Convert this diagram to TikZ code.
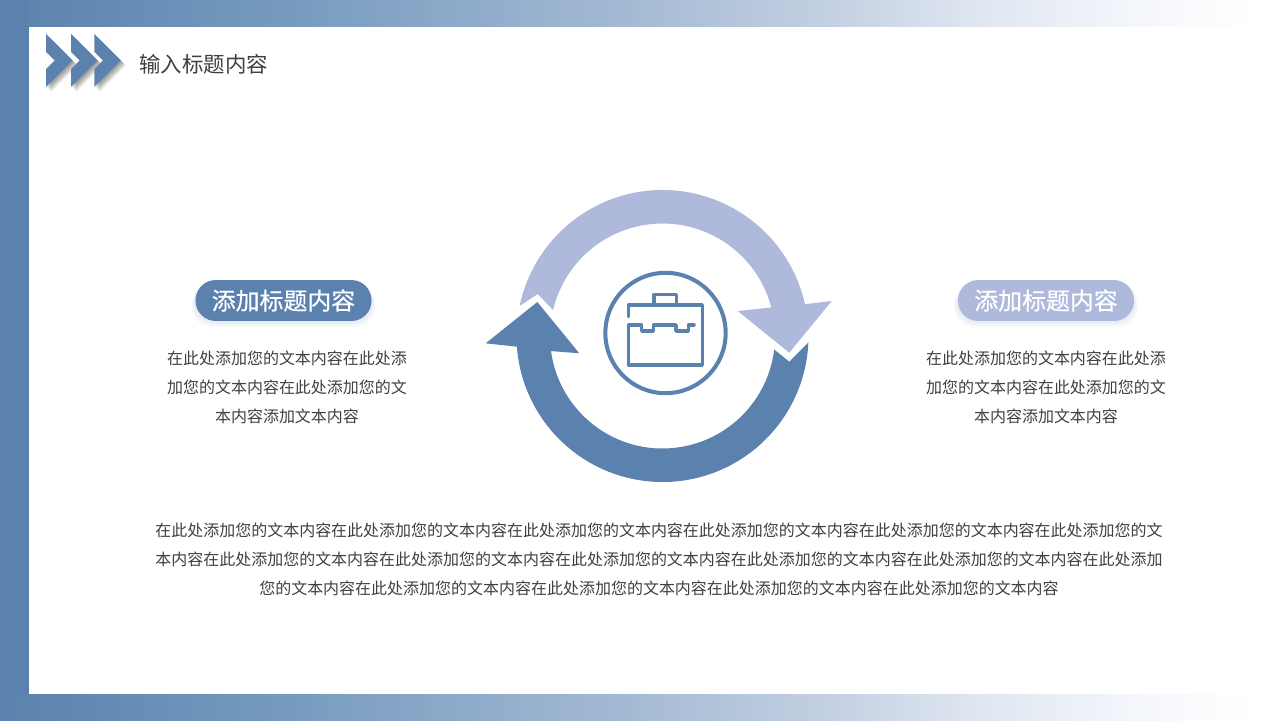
\documentclass[tikz,border=0pt]{standalone}
\usepackage{fontspec}
\setmainfont{Noto Sans CJK SC}
\usepackage{tikz}
\usetikzlibrary{positioning}
\definecolor{darkblue}{HTML}{5B82AE}
\definecolor{lightblue}{HTML}{AFB9DC}
\definecolor{inktext}{HTML}{404040}
\definecolor{fadea}{RGB}{120,156,192}
\definecolor{fadeb}{RGB}{163,185,211}
\definecolor{fadec}{RGB}{194,207,225}
\definecolor{faded}{RGB}{225,232,242}
\definecolor{fadee}{RGB}{246,248,252}
\pgfdeclarehorizontalshading{barfade}{100bp}{
  color(0bp)=(darkblue); color(25bp)=(darkblue); color(36.75bp)=(fadea); color(49.25bp)=(fadeb);
  color(57bp)=(fadec); color(63.75bp)=(faded); color(70bp)=(fadee); color(74bp)=(white); color(100bp)=(white)
}
\tikzstyle{bar edge}=[shading=barfade]
\tikzstyle{body text}=[inner sep=0pt,align=center,text=inktext,font=\fontsize{9.1}{16.5}\selectfont]
\tikzstyle{pill}=[rounded corners=11.5pt,minimum width=100.2pt,minimum height=23.3pt,inner sep=0pt,text=white,font=\fontsize{13.6}{16}\selectfont\addfontfeature{FakeBold=0.5}]
\tikzstyle{icon line}=[darkblue,line width=2pt,line cap=round,line join=round]
\newcommand{\pillglow}[2]{
  \foreach \g in {1,2,3,4}{
    \fill[lightblue,opacity=0.07,rounded corners=11.5pt] (#1-88-\g,#2-16) rectangle (#1+88+\g,#2+20.5+\g*1.5);
  }
}
\newcommand{\chevron}[2][]{
  \fill[#1] (#2,34) -- ++(26.4,26.4) -- ++(-26.4,26.4) -- ++(0,-17.8) -- ++(8.8,-8.6) -- ++(-8.8,-8.6) -- cycle
}

\begin{document}
\begin{tikzpicture}[x=0.02cm,y=-0.02cm]
  \useasboundingbox (0,0) rectangle (1280,720);
  \fill[white] (0,0) rectangle (1280,720);
  % frame
  \fill[bar edge] (0,0) rectangle (1280,26);
  \fill[bar edge] (0,694) rectangle (1280,720);
  \fill[darkblue] (0,0) rectangle (28.5,694);

  % header
  \foreach \cx in {46,71,94.3}{
    \foreach \s in {1,2,3,4,5}{
      \begin{scope}[shift={(\s,\s)}]
        \chevron[black,opacity=0.09]{\cx};
      \end{scope}
    }
    \chevron[darkblue]{\cx};
  }
  \node[anchor=west,inner sep=0pt,text=inktext,font=\fontsize{12.2}{14}\selectfont] (title) at (139,64) {输入标题内容};

  % circular arrows
  \begin{scope}[shift={(662.5,336)}]
    \fill[lightblue] (-168.1:146) arc[start angle=-168.1,end angle=-12.6,radius=146]
      -- (169.2,-35) -- (126.8,16.7) -- (75.2,-25) -- (-14.7:112.5)
      arc[start angle=-14.7,end angle=-166.7,radius=112.5] -- (-124.8,-42) -- cycle;
    \fill[darkblue] (2.5:146) arc[start angle=2.5,end angle=175.8,radius=146]
      -- (-176.8,7.3) -- (-125.2,-34) -- (-83.2,17.3) -- (172.3:112.5)
      arc[start angle=172.3,end angle=6.9,radius=112.5] -- (126.8,25.7) -- cycle;
  \end{scope}

  % icon
  \node[circle,draw=darkblue,line width=2.3pt,minimum size=68.5pt,inner sep=0pt] (badge) at (665.5,333) {};
  \draw[icon line] (628.3,316.7) -- (628.3,305) -- (702.3,305) -- (702.3,365) -- (628.3,365) -- (628.3,325)
    -- (641.7,325) -- (641.7,331) -- (653.3,331) -- (653.3,325) -- (676,325) -- (676,331) -- (688.3,331) -- (688.3,325) -- (694,325);
  \draw[icon line] (654,305) -- (654,294.3) -- (676.7,294.3) -- (676.7,305);

  % left column
  \pillglow{283.5}{300.5}
  \pillglow{1046}{300.5}
  \node[pill,fill=darkblue] (headleft) at (283.5,300.5) {添加标题内容};
  \node[pill,fill=lightblue] (headright) at (1046,300.5) {添加标题内容};
  \node[body text] (textleft) at (287,387) {在此处添加您的文本内容在此处添\\加您的文本内容在此处添加您的文\\本内容添加文本内容};
  \node[body text] (textright) at (1046,387) {在此处添加您的文本内容在此处添\\加您的文本内容在此处添加您的文\\本内容添加文本内容};

  % bottom paragraph
  \node[body text] (textbottom) at (659,559) {在此处添加您的文本内容在此处添加您的文本内容在此处添加您的文本内容在此处添加您的文本内容在此处添加您的文本内容在此处添加您的文\\本内容在此处添加您的文本内容在此处添加您的文本内容在此处添加您的文本内容在此处添加您的文本内容在此处添加您的文本内容在此处添加\\您的文本内容在此处添加您的文本内容在此处添加您的文本内容在此处添加您的文本内容在此处添加您的文本内容};
\end{tikzpicture}
\end{document}
